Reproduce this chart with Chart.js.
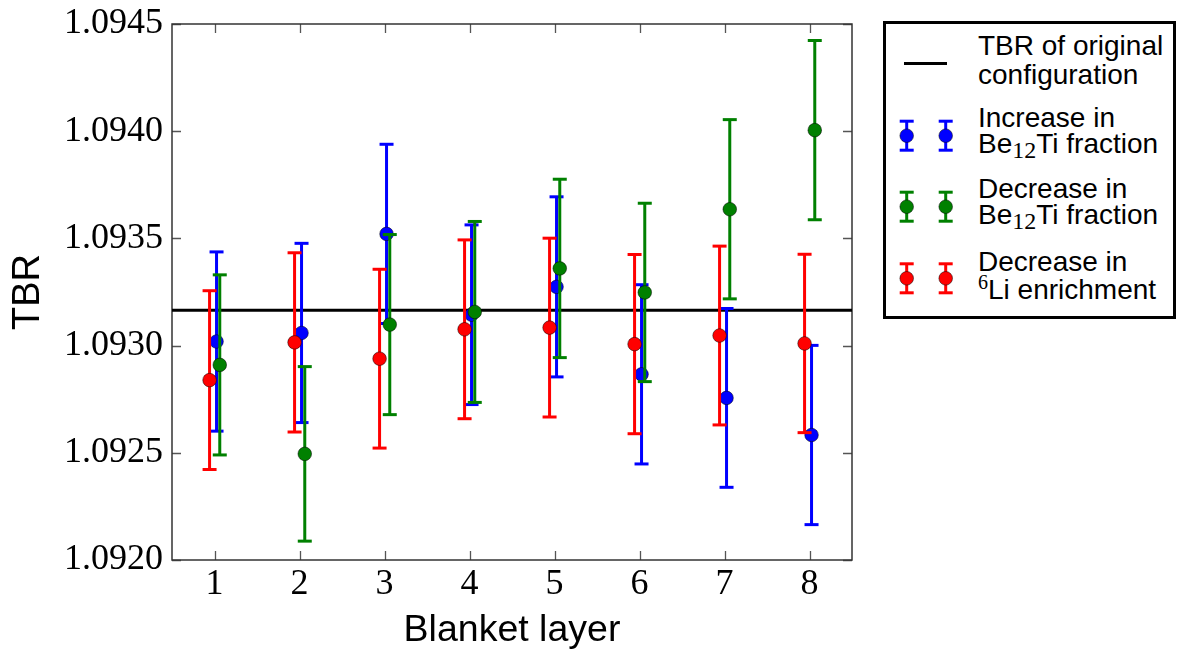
<!DOCTYPE html>
<html>
<head>
<meta charset="utf-8">
<script src="https://cdn.jsdelivr.net/npm/chart.js@4.4.1/dist/chart.umd.min.js"></script>
<style>
  html, body { margin: 0; padding: 0; background: #fff; }
  #wrap { position: relative; width: 1177px; height: 655px; }
  #legend { position: absolute; left: 883px; top: 21px; width: 287px; height: 292px;
            border: 3px solid #000; background: #fff;
            font-family: 'Liberation Sans', Arial, sans-serif; font-size: 28px; color: #000; }
  #legend .ln { position: absolute; left: 92px; line-height: 28px; white-space: nowrap; }
  #legend .sub { font-family: 'Liberation Serif', serif; font-size: 24px; position: relative; top: 5px; }
  #legend .sup { font-family: 'Liberation Serif', serif; font-size: 20px; position: relative; top: -10px; }
  #legend svg { position: absolute; left: 0; top: 0; }
</style>
</head>
<body>
<div id="wrap">
  <canvas id="c" width="1177" height="655"></canvas>
  <div id="legend">
    <svg id="legsym" width="287" height="292"></svg>
    <div class="ln" style="top:8px">TBR of original</div>
    <div class="ln" style="top:37px">configuration</div>
    <div class="ln" style="top:80px">Increase in</div>
    <div class="ln" style="top:106px">Be<span class="sub">12</span>Ti fraction</div>
    <div class="ln" style="top:151px">Decrease in</div>
    <div class="ln" style="top:177px">Be<span class="sub">12</span>Ti fraction</div>
    <div class="ln" style="top:224px">Decrease in</div>
    <div class="ln" style="top:252px"><span class="sup">6</span>Li enrichment</div>
  </div>
</div>
<script>
// ---------------- data ----------------
const layers = [1, 2, 3, 4, 5, 6, 7, 8];
const xTickLabels = ['1', '2', '3', '4', '5', '6', '7', '8'];
const yTickValues = [1.0920, 1.0925, 1.0930, 1.0935, 1.0940, 1.0945];
const yTickLabels = ['1.0920', '1.0925', '1.0930', '1.0935', '1.0940', '1.0945'];

const originalTBR = 1.093165;

const incBe12Ti    = [1.093019, 1.093059, 1.093521, 1.093144, 1.093274, 1.092866, 1.092756, 1.092583];
const incBe12TiErr = [0.000418, 0.000418, 0.000418, 0.000419, 0.000420, 0.000418, 0.000417, 0.000418];

const decBe12Ti    = [1.092910, 1.092495, 1.093098, 1.093157, 1.093360, 1.093248, 1.093636, 1.094005];
const decBe12TiErr = [0.000420, 0.000407, 0.000420, 0.000422, 0.000416, 0.000416, 0.000418, 0.000418];

const decLi6       = [1.092839, 1.093015, 1.092939, 1.093076, 1.093084, 1.093007, 1.093047, 1.093010];
const decLi6Err    = [0.000417, 0.000418, 0.000417, 0.000417, 0.000417, 0.000418, 0.000417, 0.000416];

// ---------------- styles ----------------
const BLUE = '#0000ff', GREEN = '#008000', RED = '#ff0000';
const DODGE = { inc: 0.024, dec: 0.062, li: -0.058 };
const MARK_R = 6.8;

function pts(vals, off) { return vals.map((v, i) => ({ x: layers[i] + off, y: v })); }
function bars(vals, errs, off) {
  const out = [];
  vals.forEach((v, i) => {
    const x = layers[i] + off;
    out.push({ x, y: v - errs[i] }, { x, y: v + errs[i] }, { x, y: null });
  });
  return out;
}
function barDs(label, vals, errs, off, color, order) {
  return { type: 'line', label, data: bars(vals, errs, off), borderColor: color, backgroundColor: color,
    borderWidth: 3, spanGaps: false, pointStyle: 'line', pointRadius: 7, pointHoverRadius: 7,
    pointBorderWidth: 3, pointBorderColor: color, borderCapStyle: 'butt', order, clip: false };
}
function markDs(label, vals, off, color, order) {
  return { type: 'line', label, data: pts(vals, off), showLine: false, pointStyle: 'circle',
    pointRadius: MARK_R, pointHoverRadius: MARK_R, pointBackgroundColor: color,
    pointBorderColor: 'rgba(0,0,0,0.5)', pointBorderWidth: 1, order, clip: false };
}

const framePlugin = {
  id: 'frame',
  beforeDatasetsDraw(chart) {
    const { ctx, chartArea: a, scales } = chart;
    ctx.save();
    ctx.strokeStyle = '#555';
    ctx.lineWidth = 1.3;
    const L = 9;
    scales.x.ticks.forEach(t => {
      const px = Math.round(scales.x.getPixelForValue(t.value)) + 0.5;
      ctx.beginPath();
      ctx.moveTo(px, a.bottom); ctx.lineTo(px, a.bottom - L);
      ctx.moveTo(px, a.top); ctx.lineTo(px, a.top + L);
      ctx.stroke();
    });
    scales.y.ticks.forEach(t => {
      const py = Math.round(scales.y.getPixelForValue(t.value)) + 0.5;
      ctx.beginPath();
      ctx.moveTo(a.left, py); ctx.lineTo(a.left + L, py);
      ctx.moveTo(a.right, py); ctx.lineTo(a.right - L, py);
      ctx.stroke();
    });
    ctx.strokeStyle = '#333';
    ctx.lineWidth = 1.5;
    ctx.strokeRect(a.left, a.top, a.right - a.left, a.bottom - a.top);
    ctx.restore();
  }
};

new Chart(document.getElementById('c'), {
  data: {
    datasets: [
      { type: 'line', label: 'TBR of original configuration',
        data: [{ x: 0.5, y: originalTBR }, { x: 8.5, y: originalTBR }],
        borderColor: '#000', borderWidth: 3, pointRadius: 0, pointHoverRadius: 0, order: 8 },
      barDs('inc err', incBe12Ti, incBe12TiErr, DODGE.inc, BLUE, 7),
      markDs('Increase in Be12Ti fraction', incBe12Ti, DODGE.inc, BLUE, 6),
      barDs('dec err', decBe12Ti, decBe12TiErr, DODGE.dec, GREEN, 5),
      markDs('Decrease in Be12Ti fraction', decBe12Ti, DODGE.dec, GREEN, 4),
      barDs('li err', decLi6, decLi6Err, DODGE.li, RED, 3),
      markDs('Decrease in 6Li enrichment', decLi6, DODGE.li, RED, 2)
    ]
  },
  options: {
    responsive: false,
    animation: false,
    events: [],
    layout: { padding: { left: 0, top: 24, right: 325, bottom: 0 } },
    plugins: { legend: { display: false }, tooltip: { enabled: false } },
    scales: {
      x: {
        type: 'linear', min: 0.5, max: 8.5,
        afterBuildTicks: s => { s.ticks = layers.map(v => ({ value: v })); },
        afterFit: s => { s.height = 95; s.paddingLeft = 0; s.paddingRight = 0; },
        ticks: { callback: (v) => xTickLabels[layers.indexOf(v)] ?? '', padding: 3,
                 color: '#000', font: { family: "'Liberation Serif', serif", size: 36 }, maxRotation: 0 },
        grid: { display: false, drawTicks: false },
        border: { display: false },
        title: { display: true, text: 'Blanket layer', color: '#000',
                 font: { family: "'Liberation Sans', Arial, sans-serif", size: 37.5 }, padding: { top: 0, bottom: 2 } }
      },
      y: {
        type: 'linear', min: 1.0920, max: 1.0945,
        afterBuildTicks: s => { s.ticks = yTickValues.map(v => ({ value: v })); },
        afterFit: s => { s.width = 172; s.paddingTop = 0; s.paddingBottom = 0; },
        ticks: { callback: (v) => { const i = yTickValues.findIndex(t => Math.abs(t - v) < 1e-9); return i >= 0 ? yTickLabels[i] : ''; },
                 padding: 9, color: '#000', font: { family: "'Liberation Serif', serif", size: 36 } },
        grid: { display: false, drawTicks: false },
        border: { display: false },
        title: { display: true, text: 'TBR', color: '#000',
                 font: { family: "'Liberation Sans', Arial, sans-serif", size: 38 }, padding: { top: 6, bottom: 0 } }
      }
    }
  },
  plugins: [framePlugin]
});

// legend symbols (not data marks)
(function () {
  const svg = document.getElementById('legsym');
  const NS = 'http://www.w3.org/2000/svg';
  function el(name, attrs) { const e = document.createElementNS(NS, name); for (const k in attrs) e.setAttribute(k, attrs[k]); svg.appendChild(e); return e; }
  el('line', { x1: 18, x2: 61, y1: 39.5, y2: 39.5, stroke: '#000', 'stroke-width': 3 });
  function eb(cx, cy, h, color) {
    el('line', { x1: cx, x2: cx, y1: cy - h, y2: cy + h, stroke: color, 'stroke-width': 3 });
    el('line', { x1: cx - 7, x2: cx + 7, y1: cy - h, y2: cy - h, stroke: color, 'stroke-width': 3 });
    el('line', { x1: cx - 7, x2: cx + 7, y1: cy + h, y2: cy + h, stroke: color, 'stroke-width': 3 });
    el('circle', { cx, cy, r: MARK_R, fill: color, stroke: 'rgba(0,0,0,0.5)', 'stroke-width': 1 });
  }
  [[111.7, BLUE], [182.7, GREEN], [254.3, RED]].forEach(([y, c]) => { eb(20.7, y, 14.5, c); eb(59.7, y, 14.5, c); });
})();
</script>
</body>
</html>
